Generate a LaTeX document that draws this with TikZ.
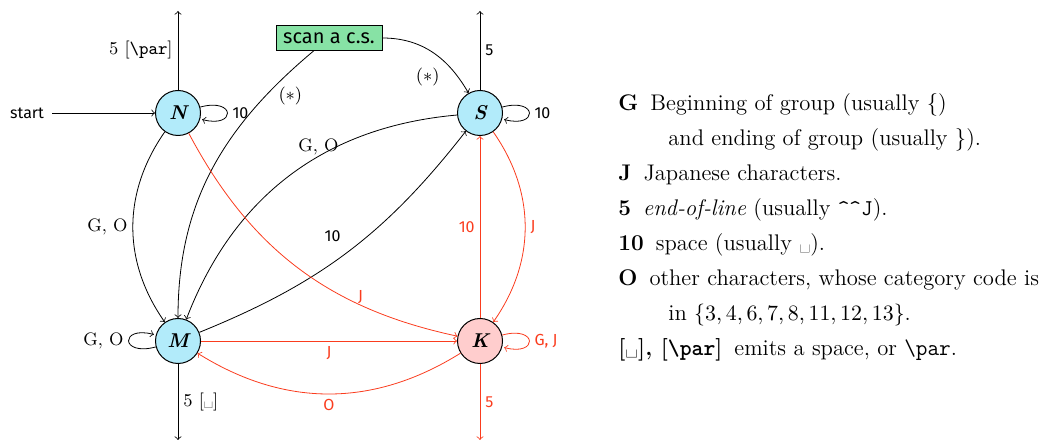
\documentclass[tikz,border=0pt]{standalone}
\usepackage{fontspec}
\IfFontExistsTF{Fira Sans Book}
  {\newfontfamily\labelfont{Fira Sans Book}}
  {\newfontfamily\labelfont{Fira Sans}}
\usepackage{tikz}
\usetikzlibrary{positioning, calc}
\definecolor{nfill}{RGB}{178,235,250}
\definecolor{kfill}{RGB}{255,205,205}
\definecolor{scanfill}{RGB}{135,226,165}
\definecolor{jred}{RGB}{250,60,30}
\tikzstyle{arrow} = [->]
\tikzstyle{kedge} = [->, color=jred]

\begin{document}
\begin{tikzpicture}[x=0.5pt, y=0.5pt,
    catstate/.style={circle, draw, line width=0.5pt, minimum size=22.5pt,
                     inner sep=0pt, font=\bfseries\itshape},
    lbl/.style={font=\labelfont\footnotesize, inner sep=2.5pt},
    slbl/.style={font=\small, inner sep=2.5pt},
    node distance=114pt and 151pt, on grid
]
\useasboundingbox (0,0) rectangle (1063,443);

% States
\node[catstate, fill=nfill] (N) at (178,330) {N};
\node[catstate, fill=nfill, right=of N] (S) {S};
\node[catstate, fill=nfill, below=of N] (M) {M};
\node[catstate, fill=kfill, right=of M] (K) {K};

% Start and control sequence box
\node[lbl, inner sep=4pt] (start) at (27,330) {start};
\node[draw, fill=scanfill, font=\labelfont, minimum width=53pt,
      minimum height=12.5pt, inner sep=2pt] (scan) at (329,405) {scan a c.s.};

% Ends of outgoing arrows
\coordinate (Nout) at (178,432);
\coordinate (Sout) at (480,432);
\coordinate (Mout) at (178,3);
\coordinate (Kout) at (480,3);

% Black transitions
\draw[arrow] (start) -- (N);
\draw[arrow] (N) -- node[slbl, left] {5 [\texttt{\textbackslash par}]} (Nout);
\path[arrow] (N) edge[loop right] node[lbl, right] {10} ();
\draw[arrow] (N) to[bend right=35] node[slbl, left] {G, O} (M);
\draw[arrow] (scan) to[out=-140, in=90] node[slbl, pos=0.2, right=4pt] {$(*)$} (M);
\draw[arrow] (scan.east) to[out=0, in=120] node[slbl, pos=0.65, below left] {$(*)$} (S);
\draw[arrow] (S) to[bend right=32] node[slbl, pos=0.4, above, inner sep=0.5pt] {G, O} (M);
\draw[arrow] (M) to[bend right=15] node[lbl, pos=0.44, above=8pt] {10} (S);
\draw[arrow] (S) -- node[lbl, right] {5} (Sout);
\path[arrow] (S) edge[loop right] node[lbl, right] {10} ();
\path[arrow] (M) edge[loop left] node[slbl, left] {G, O} ();
\draw[arrow] (M) -- node[slbl, right] {5 [\textvisiblespace]} (Mout);

% Red transitions
\draw[kedge] (N) to[bend right=25] node[lbl, pos=0.72, above, inner sep=0.5pt] {J} (K);
\draw[kedge] (M) -- node[lbl, below] {J} (K);
\draw[kedge] (K) to[bend left=32] node[lbl, below] {O} (M);
\draw[kedge] (K) -- node[lbl, left] {10} (S);
\draw[kedge] (S) to[bend left=35] node[lbl, right] {J} (K);
\path[kedge] (K) edge[loop right] node[lbl, right] {G, J} ();
\draw[kedge] (K) -- node[lbl, right] {5} (Kout);

% Legend
\node[anchor=west, align=left, inner sep=0pt, font=\fontsize{11.3}{17.5}\selectfont] (legend) at (618,216) {
  \textbf{G}\hspace{6pt}Beginning of group (usually \{)\\
  \hspace*{25pt}and ending of group (usually \}).\\
  \textbf{J}\hspace{6pt}Japanese characters.\\
  \textbf{5}\hspace{6pt}\textit{end-of-line} (usually \texttt{\textasciicircum\textasciicircum J}).\\
  \textbf{10}\hspace{6pt}space (usually \textvisiblespace).\\
  \textbf{O}\hspace{6pt}other characters, whose category code is\\
  \hspace*{25pt}in $\{3, 4, 6, 7, 8, 11, 12, 13\}$.\\
  \textbf{[\textvisiblespace], [\texttt{\textbackslash par}]}\hspace{6pt}emits a space, or \texttt{\textbackslash par}.};
\end{tikzpicture}
\end{document}
